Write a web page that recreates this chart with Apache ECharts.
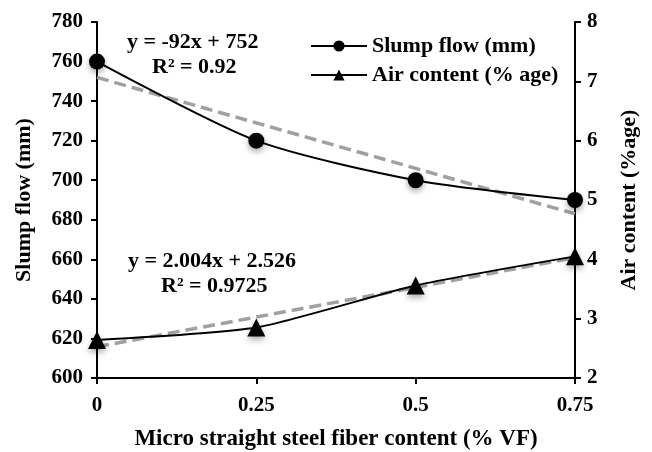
<!DOCTYPE html>
<html>
<head>
<meta charset="UTF-8">
<title>Slump flow and air content</title>
<script src="https://cdn.jsdelivr.net/npm/echarts@6/dist/echarts.min.js"></script>
</head>
<body style="margin:0">
<div id="main" style="width:652px;height:452px;"></div>
<script type="text/javascript">
// fiber content (% VF)
var fiber = [0, 0.25, 0.5, 0.75];
var slumpFlow = [760, 720, 700, 690];
var airContent = [2.64, 2.85, 3.56, 4.05];
// trend line end points
var trendX = [0, 0.75];
var slumpTrend = [752, 683];
var airTrend = [2.526, 4.029];

var FONT = '"Liberation Serif", "Times New Roman", serif';

function pairs(xs, ys) {
    return xs.map(function (x, i) { return [x, ys[i]]; });
}

var myChart = echarts.init(document.getElementById('main'));

var option = {
    animation: false,
    textStyle: { fontFamily: FONT, fontWeight: 'bold', color: '#000' },
    grid: { left: 97, right: 77, top: 22, bottom: 74, outerBoundsMode: 'none' },
    legend: {
        data: ['Slump flow (mm)', 'Air content (% age)'],
        orient: 'vertical',
        left: 305,
        top: 30,
        itemWidth: 56,
        itemHeight: 14,
        itemGap: 7,
        textStyle: { fontFamily: FONT, fontWeight: 'bold', fontSize: 22, color: '#000' }
    },
    xAxis: {
        type: 'value',
        min: 0, max: 0.75, interval: 0.25,
        name: 'Micro straight steel fiber content (% VF)',
        nameLocation: 'middle',
        nameGap: 50,
        nameTextStyle: { fontFamily: FONT, fontWeight: 'bold', fontSize: 23, color: '#000' },
        splitLine: { show: false },
        axisLine: { onZero: false, lineStyle: { color: '#000', width: 2 } },
        axisTick: { length: 6, lineStyle: { color: '#000', width: 2 } },
        axisLabel: { margin: 17, fontFamily: FONT, fontWeight: 'bold', fontSize: 21, color: '#000' }
    },
    yAxis: [
        {
            type: 'value',
            min: 600, max: 780, interval: 20,
            name: 'Slump flow (mm)',
            nameLocation: 'middle',
            nameRotate: 90,
            nameGap: 62,
            nameTextStyle: { fontFamily: FONT, fontWeight: 'bold', fontSize: 22, color: '#000' },
            splitLine: { show: false },
            axisLine: { show: true, lineStyle: { color: '#000', width: 2 } },
            axisTick: { show: true, length: 6, lineStyle: { color: '#000', width: 2 } },
            axisLabel: { margin: 14, fontFamily: FONT, fontWeight: 'bold', fontSize: 21, color: '#000' }
        },
        {
            type: 'value',
            position: 'right',
            min: 2, max: 8, interval: 1,
            name: 'Air content (%age)',
            nameLocation: 'middle',
            nameRotate: 90,
            nameGap: 43,
            nameTextStyle: { fontFamily: FONT, fontWeight: 'bold', fontSize: 22, color: '#000' },
            splitLine: { show: false },
            axisLine: { show: true, lineStyle: { color: '#000', width: 2 } },
            axisTick: { show: true, length: 6, lineStyle: { color: '#000', width: 2 } },
            axisLabel: { margin: 12, fontFamily: FONT, fontWeight: 'bold', fontSize: 21, color: '#000' }
        }
    ],
    graphic: [
        { type: 'text', left: 127, top: 31, style: { text: 'y = -92x + 752', font: 'bold 22px ' + FONT, fill: '#000' } },
        { type: 'text', left: 152, top: 56, style: { text: 'R² = 0.92', font: 'bold 22px ' + FONT, fill: '#000' } },
        { type: 'text', left: 128, top: 250, style: { text: 'y = 2.004x + 2.526', font: 'bold 22px ' + FONT, fill: '#000' } },
        { type: 'text', left: 161, top: 275, style: { text: 'R² = 0.9725', font: 'bold 22px ' + FONT, fill: '#000' } }
    ],
    series: [
        {
            name: 'Slump trend',
            type: 'line',
            yAxisIndex: 0,
            data: pairs(trendX, slumpTrend),
            symbol: 'none',
            lineStyle: { color: '#a0a0a0', width: 3.5, type: [12, 6] },
            z: 1
        },
        {
            name: 'Air trend',
            type: 'line',
            yAxisIndex: 1,
            data: pairs(trendX, airTrend),
            symbol: 'none',
            lineStyle: { color: '#a0a0a0', width: 3.5, type: [12, 6] },
            z: 1
        },
        {
            name: 'Slump flow (mm)',
            type: 'line',
            yAxisIndex: 0,
            data: pairs(fiber, slumpFlow),
            smooth: 0.25,
            symbol: 'circle',
            symbolSize: 16,
            itemStyle: { color: '#000', shadowBlur: 6, shadowColor: 'rgba(0,0,0,0.35)', shadowOffsetY: 3 },
            lineStyle: { color: '#000', width: 2 },
            z: 3
        },
        {
            name: 'Air content (% age)',
            type: 'line',
            yAxisIndex: 1,
            data: pairs(fiber, airContent),
            smooth: 0.2,
            symbol: 'triangle',
            symbolSize: 18,
            itemStyle: { color: '#000', shadowBlur: 6, shadowColor: 'rgba(0,0,0,0.35)', shadowOffsetY: 3 },
            lineStyle: { color: '#000', width: 2 },
            z: 3
        }
    ]
};

myChart.setOption(option);
</script>
</body>
</html>
